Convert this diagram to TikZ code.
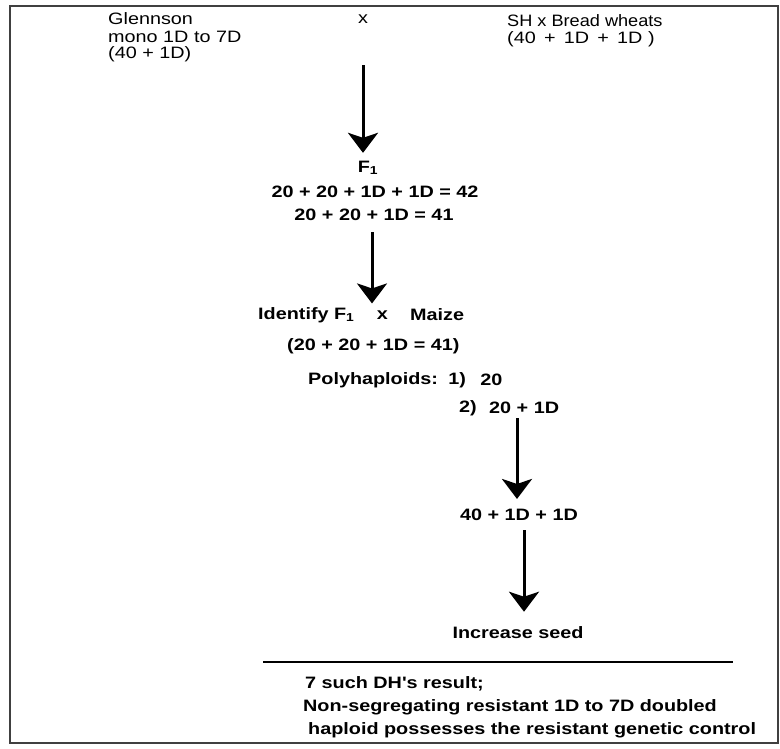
\documentclass[tikz,border=0pt]{standalone}
\usepackage{fontspec}
\setmainfont{Liberation Sans}
\newfontfamily\widefont[FakeStretch=1.2]{Liberation Sans}
\newfontfamily\midfont[FakeStretch=1.1]{Liberation Sans}
\usetikzlibrary{arrows.meta,positioning}
\begin{document}
\begin{tikzpicture}[x=1pt,y=1pt,
  txt/.style={inner sep=0pt,font=\widefont\fontsize{16.5}{18}\selectfont},
  btxt/.style={inner sep=0pt,font=\widefont\fontsize{16.5}{18}\selectfont\bfseries},
  arr/.style={line width=3pt,-{Stealth[length=20pt,width=30pt,inset=5pt]}},
  frame/.style={line width=1.6pt,draw=black!75}]
\useasboundingbox (0,0) rectangle (780,-748);
\draw[frame] (10,-6) rectangle (778,-743);
% top row
\node[txt,anchor=west] (gl1) at (108,-19) {Glennson};
\node[txt,anchor=west] (gl2) at (108,-37) {mono 1D to 7D};
\node[txt,anchor=west] (gl3) at (108,-54) {(40 + 1D)};
\node[txt] (cross) at (363,-19) {x};
\node[txt,anchor=west,font=\midfont\fontsize{16.5}{18}\selectfont] (sh1) at (507,-21) {SH x Bread wheats};
\node[txt,anchor=west] (sh2) at (507,-39) {(40 \,+\, 1D \,+\, 1D )};
% F1
\node[btxt] (f1) at (368,-168) {F\textsubscript{1}};
\node[btxt] (f1a) at (375,-192) {20 + 20 + 1D + 1D = 42};
\node[btxt] (f1b) at (374,-215) {20 + 20 + 1D = 41};
% identify
\node[btxt,anchor=west] (idf) at (258,-315) {Identify F\textsubscript{1}};
\node[btxt,anchor=west,right=22pt of idf] (idx) {x};
\node[btxt,anchor=west,right=22pt of idx] (idm) {Maize};
\node[btxt,anchor=west] (idb) at (287,-346) {(20 + 20 + 1D = 41)};
\node[btxt,anchor=west] (poly) at (308,-380) {Polyhaploids:};
\node[btxt,anchor=west,right=10pt of poly] (p1n) {1)};
\node[btxt,anchor=west,right=14pt of p1n] (p1) {20};
\node[btxt,anchor=west] (p2n) at (459,-408) {2)};
\node[btxt,anchor=west,right=12pt of p2n] (p2) {20 + 1D};
\node[btxt] (dd) at (519,-515) {40 + 1D + 1D};
\node[btxt] (inc) at (518,-633) {Increase seed};
% rule and result
\coordinate (rl) at (263,-662);
\coordinate (rr) at (733,-662);
\draw[line width=1.4pt] (rl) -- (rr);
\node[btxt,anchor=west] (r1) at (305,-684) {7 such DH's result;};
\node[btxt,anchor=west] (r2) at (303,-707) {Non-segregating resistant 1D to 7D doubled};
\node[btxt,anchor=west] (r3) at (308,-730) {haploid possesses the resistant genetic control};
% arrow start points
\coordinate (a1) at (363,-65);
\coordinate (a2) at (372,-232);
\coordinate (a3) at (517,-418);
\coordinate (a4) at (524,-530);
% arrows
\draw[arr,shorten >=8pt] (a1) -- (a1 |- f1.north);
\draw[arr,shorten >=7pt] (a2) -- (a2 |- idx.north);
\draw[arr,shorten >=10pt] (a3) -- (a3 |- dd.north);
\draw[arr,shorten >=15pt] (a4) -- (a4 |- inc.north);
\end{tikzpicture}
\end{document}
